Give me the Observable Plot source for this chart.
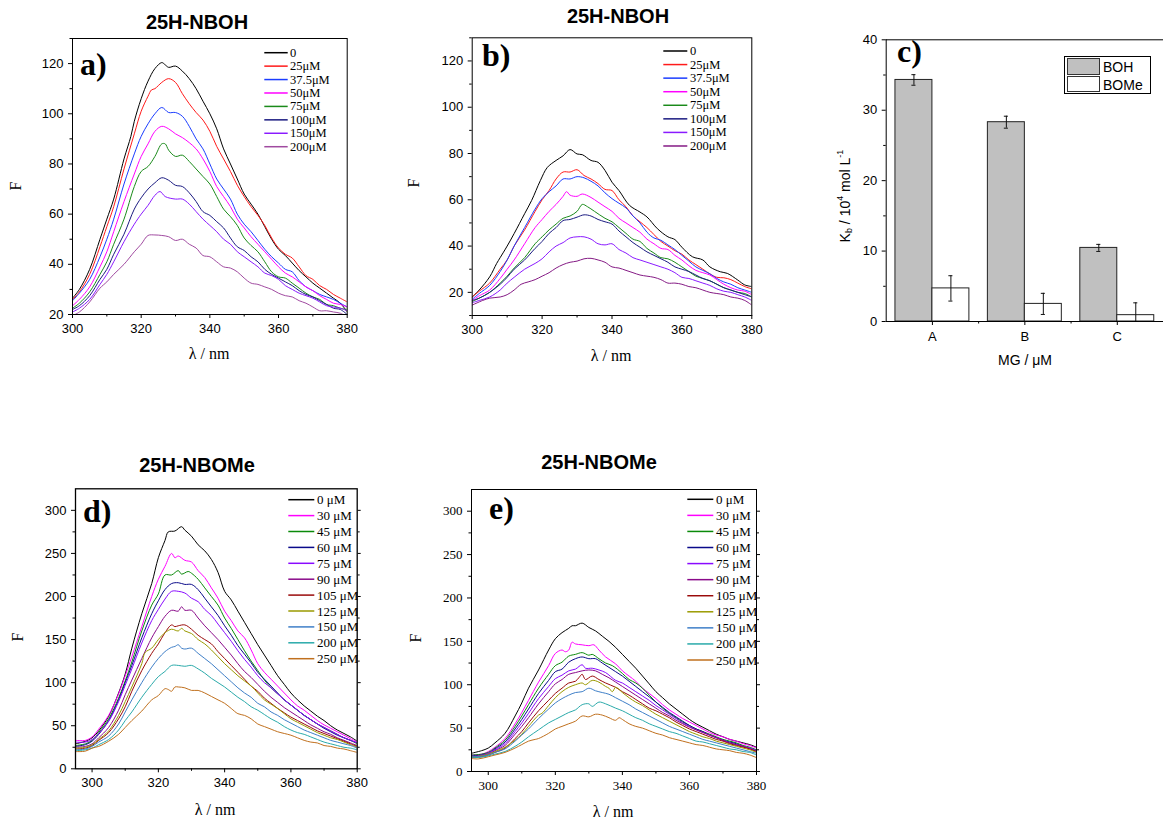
<!DOCTYPE html>
<html><head><meta charset="utf-8">
<script src="https://cdn.jsdelivr.net/npm/d3@7"></script>
<script src="https://cdn.jsdelivr.net/npm/@observablehq/plot@0.6"></script>
<style>
body{margin:0;background:#fff;}
#root{position:relative;width:1163px;height:821px;overflow:hidden;background:#fff;}
</style></head>
<body><div id="root"></div>
<script>
// ---------------- DATA ----------------
// Panels a & b: 25H-NBOH spectra (wavelength nm, F)
const abLabels = ["0","25μM","37.5μM","50μM","75μM","100μM","150μM","200μM"];
const aColors = ["#000000","#ff1a1a","#1a3cff","#ff00ff","#1a8a1a","#1a1a80","#8a1aff","#a04aa0"];
const bColors = ["#000000","#ff1a1a","#1a3cff","#ff00ff","#1a8a1a","#1a1a80","#8a1aff","#841a84"];

const a0 = [[300,26.5],[302,30],[305,38],[308,50],[310,58],[312,66],[315,82],[317,91],[318,97],[320,106],[322,113],[324,118],[326,120.4],[327,119.5],[328,118.5],[330,119],[332,117],[334,114],[336,110],[338,105],[340,100],[342,94],[344,86],[346,80],[348,74],[350,68],[352,64],[354,60],[356,55],[358,50],[360,46],[362,43.5],[364,40.5],[366,37.5],[368,35],[370,32.5],[372,30.5],[374,28.5],[376,26.5],[378,24.5],[380,21]];
const a25 = [[300,26],[302,29],[305,36],[308,47],[310,55],[312,63],[315,78],[318,92],[320,101],[322,107],[323,109.5],[324,110],[326,112.5],[328,114],[330,112.5],[332,108],[334,104],[336,100.5],[338,97.5],[340,93],[342,87],[344,82],[346,77],[348,71.5],[350,67],[352,63],[354,59.5],[356,55.5],[358,50.5],[360,46.5],[362,44],[364,42.5],[366,39],[368,35.5],[370,34],[372,31.5],[374,30],[376,28],[378,26.5],[380,25]];
const a37 = [[300,25.5],[302,28.5],[305,34],[308,43],[310,50],[312,58],[315,72],[318,84],[320,91],[322,96],[324,100],[326,102.5],[328,100.5],[330,100.5],[332,99],[334,95],[336,90],[338,86],[340,80],[342,74],[344,70],[346,66],[348,60],[350,56],[352,53],[354,49.5],[356,46],[358,43],[360,40.5],[362,38],[364,37],[366,33.5],[368,31],[370,29.5],[372,28],[374,27],[376,26],[378,24.5],[380,23]];
const a50 = [[300,23.5],[302,26],[305,31],[308,39],[310,45],[312,53],[315,65],[318,76],[320,83],[322,88],[324,93],[326,95],[328,94],[330,92],[332,90.5],[334,88.5],[336,86],[338,82],[340,77],[342,71],[344,67],[346,63],[348,58],[350,54.5],[352,51],[354,48],[356,45],[358,42],[360,39],[362,36.5],[364,35],[366,33],[368,31],[370,29.5],[372,27.5],[374,26],[376,24.5],[378,24],[380,23]];
const a75 = [[300,22.5],[302,24.5],[305,29],[308,36],[310,41],[312,48],[315,58],[318,71],[320,77],[322,79],[324,83],[326,88],[327,88],[328,85.5],[330,83],[332,83.5],[334,81],[336,78],[338,75],[340,72],[342,67],[344,62],[346,59],[348,55.5],[350,50.5],[352,47.5],[354,45],[356,41],[358,37],[360,35],[362,34.5],[364,32.5],[366,30.5],[368,28.5],[370,27],[372,26],[374,24],[376,23.5],[378,22.5],[380,22]];
const a100 = [[300,22],[302,23.5],[305,27.5],[308,34],[310,38],[312,44],[315,52],[318,62],[320,66.5],[322,70],[324,72.5],[326,74.5],[328,73.5],[330,71.5],[332,71],[334,68.5],[336,65],[338,61],[340,59.5],[342,57],[344,54.5],[346,50.5],[348,47],[350,45.5],[352,43],[354,41],[356,38],[358,36],[360,34.5],[362,33],[364,31.5],[366,29.5],[368,28],[370,27],[372,25.5],[374,24],[376,22.5],[378,22],[380,20]];
const a150 = [[300,21],[302,22.5],[305,26],[308,32],[310,36],[312,41],[315,49],[318,56],[320,60],[322,63.5],[324,67.5],[325.5,69],[327,67],[330,66],[332,66],[334,64],[336,61],[338,58],[340,55.5],[342,53],[344,50],[346,48],[348,45],[350,43],[352,41],[354,39],[356,36.5],[358,35.5],[360,34],[362,31.5],[364,30],[366,28.5],[368,27.5],[370,26.5],[372,25],[374,23.5],[376,23],[378,22.5],[380,21.5]];
const a200 = [[300,19.5],[302,21],[305,25],[308,30.5],[310,33],[312,36],[315,40],[318,45],[320,48],[322,51.5],[324,51.7],[326,51.5],[328,51],[330,49.5],[332,50],[334,48],[336,46.5],[338,43.5],[340,43],[342,41],[344,39],[346,38.5],[348,37],[350,34.5],[352,32.5],[354,32],[356,31],[358,30],[360,28.5],[362,27.5],[364,27],[366,25.5],[368,24.5],[370,23],[372,21.5],[374,21.5],[376,21],[378,20.5],[380,19]];

const b0 = [[300,18],[302,21],[305,26.7],[307,32.5],[308,35],[310,40],[312,45.4],[315,54],[317,59.7],[319.5,68.3],[321.5,74],[324,77],[326,79],[328,81.7],[330,79.8],[331.5,79.5],[334,77],[336,76.2],[338,72.7],[340,67.6],[342,64],[345,57.6],[348,54.7],[350,52.6],[353,47.5],[356,44],[358,42.8],[360,39.5],[363,35.4],[366,34],[368,31],[371,28.9],[373,28.2],[376,25.3],[378,23.2],[380,22.5]];
const b25 = [[300,18],[302,20.5],[305,24],[308,30],[310,34],[312,40],[315,47],[318,55],[320,60],[322,64],[324,69],[326,72],[328,72],[330,73],[332,70.5],[334,69],[336,67],[338,64.5],[340,64],[342,60],[344,57],[346,53],[348,50.5],[350,48],[352,45],[354,42],[356,40],[358,38],[360,36.5],[362,34],[364,32],[366,30],[368,28],[370,26.5],[372,26.3],[374,25.5],[376,24],[378,22.5],[380,21.5]];
const b37 = [[300,17],[302,19.5],[305,23],[308,29],[310,34],[312,40],[315,48],[318,56],[320,60.5],[322,63.5],[324,66],[326,69],[328,69],[330,70],[332,69.5],[334,68],[336,66],[338,63],[340,60.5],[342,58.5],[344,56.5],[346,53],[348,50],[350,46],[352,43.5],[354,42.5],[356,40.5],[358,38.5],[360,36],[362,33.5],[364,31],[366,29.5],[368,28],[370,26],[372,24.5],[374,23.5],[376,22],[378,21],[380,20]];
const b50 = [[300,16.5],[302,18.5],[305,21],[308,26],[310,30],[312,34],[315,41],[318,48],[320,51.5],[322,55],[324,58],[326,61.5],[327,63.5],[328,62],[330,61.5],[331.5,62.5],[334,61],[336,59],[338,57],[340,55],[342,52],[344,50],[346,48],[348,46],[350,43],[352,41],[354,39],[356,38.5],[358,36],[360,34],[362,31.5],[364,29.5],[366,28.5],[368,27.5],[370,25.5],[372,23.5],[374,22],[376,21],[378,20.5],[380,19]];
const b75 = [[300,16],[302,17.5],[305,20],[308,24],[310,27],[312,30.5],[315,35],[318,41],[320,44],[322,47],[324,49.5],[326,52],[328,53],[330,55],[331.5,58],[333,57],[335,55],[338,52],[340,50.5],[342,48],[344,45.5],[346,43],[348,42],[350,39],[352,37],[354,35],[356,34.5],[358,33],[360,31],[362,29],[364,27],[366,26],[368,25],[370,23.5],[372,22],[374,21],[376,20],[378,19.5],[380,18]];
const b100 = [[300,16.5],[302,17.5],[305,20],[308,23.5],[310,26.5],[312,30],[315,34],[318,39],[320,42],[322,45.5],[324,48],[326,51],[328,51.5],[330,52.5],[332,53.5],[334,53],[336,51.5],[338,50.5],[340,49.5],[342,46.5],[344,44],[346,41.5],[348,39.5],[350,37.5],[352,36],[354,34.5],[356,33],[358,31],[360,30],[362,29],[364,27.5],[366,26],[368,25],[370,23.5],[372,22],[374,21],[376,20],[378,19],[380,18]];
const b150 = [[300,15.5],[302,16.5],[305,18],[308,21],[310,24],[312,26.5],[315,30],[318,32.5],[320,34.5],[322,37.5],[324,40],[326,41.5],[328,43.5],[330,44],[332,44],[334,43],[336,41],[338,40.5],[340,41],[342,38.5],[344,37],[346,35],[348,34],[350,33],[352,32],[354,31],[356,30],[358,28.5],[360,26.5],[362,26],[364,25],[366,24],[368,23],[370,21.5],[372,20.5],[374,20],[376,19],[378,18],[380,16.5]];
const b200 = [[300,14.5],[303,16.5],[305,17.5],[308,18],[310,19],[312,21],[314,23.5],[316,24.5],[318,25.5],[320,27],[322,28.5],[324,30.5],[326,32],[328,33],[330,33.5],[332,34.5],[334,34.7],[336,34],[338,33],[340,31],[342,30.5],[344,29.5],[346,28.5],[348,27.5],[350,27],[352,26.5],[354,25.5],[356,24],[358,24],[360,23.5],[362,22.5],[364,22],[366,21],[368,20],[370,19.5],[372,19],[374,18],[376,17.5],[378,16.5],[380,14.5]];

// Panels d & e: 25H-NBOMe spectra
const deLabels = ["0 μM","30 μM","45 μM","60 μM","75 μM","90 μM","105 μM","125 μM","150 μM","200 μM","250 μM"];
const deColors = ["#000000","#ff00ff","#0a8a0a","#0a0a8a","#8a0aff","#8a0a8a","#9a0a0a","#9a9a00","#3f7fc8","#2aaaaa","#c0701e"];

const d0 = [[295,29],[298,32],[300,36],[302,44],[305,61],[308,88],[310,110],[312,140],[315,180],[318,215],[320,245],[322,265],[323,275],[325,276],[327,281],[328,277],[330,270],[332,260],[334,253],[336,243],[338,228],[340,206],[342,196],[344,183],[346,170],[348,157],[350,144],[352,132],[354,120],[356,108],[358,98],[360,88],[362,80],[364,73],[366,67],[368,61],[370,56],[372,50],[374,45],[376,41],[378,37],[380,32]];
const d30 = [[295,33],[298,33],[300,37],[302,46],[305,62],[308,87],[310,108],[312,130],[315,165],[318,200],[320,220],[322,235],[324,250],[325,245],[326,247],[328,242],[330,240],[332,230],[334,222],[336,210],[338,198],[340,183],[342,172],[344,160],[346,152],[348,138],[350,122],[352,112],[354,104],[356,96],[358,88],[360,80],[362,73],[364,68],[366,62],[368,56],[370,51],[372,47],[374,43],[376,39],[378,35],[380,31]];
const d45 = [[295,27],[298,29],[300,33],[302,42],[305,58],[308,82],[310,102],[312,124],[315,160],[318,190],[320,203],[322,225],[324,225],[326,230],[327,226],[329,229],[330,227],[332,220],[334,210],[336,200],[338,190],[340,175],[342,163],[344,150],[346,137],[348,125],[350,114],[352,103],[354,94],[356,87],[358,80],[360,74],[362,68],[364,62],[366,57],[368,52],[370,48],[372,44],[374,40],[376,36],[378,33],[380,29]];
const d60 = [[295,26],[298,28],[300,32],[302,40],[305,56],[308,80],[310,100],[312,120],[315,152],[318,180],[320,195],[322,208],[324,215],[326,216],[328,214],[330,214],[332,208],[334,198],[336,188],[338,178],[340,166],[342,155],[344,143],[346,133],[348,123],[350,112],[352,104],[354,96],[356,88],[358,80],[360,74],[362,68],[364,62],[366,57],[368,52],[370,47],[372,43],[374,39],[376,36],[378,33],[380,30]];
const d75 = [[295,31],[298,31],[300,34],[302,41],[305,55],[308,78],[310,97],[312,116],[315,146],[318,172],[320,185],[322,197],[324,206],[326,206],[328,204],[330,198],[332,194],[334,185],[336,178],[338,168],[340,158],[342,148],[344,137],[346,127],[348,118],[350,108],[352,100],[354,94],[356,87],[358,80],[360,74],[362,68],[364,62],[366,57],[368,52],[370,48],[372,44],[374,40],[376,36],[378,33],[380,30]];
const d90 = [[295,25],[298,26],[300,29],[302,36],[305,48],[308,68],[310,86],[312,103],[315,128],[318,152],[320,165],[322,177],[324,184],[326,183],[327,188],[328,184],[330,184],[332,175],[334,166],[336,158],[338,150],[340,141],[342,132],[344,122],[346,113],[348,106],[350,98],[352,90],[354,83],[356,77],[358,71],[360,66],[362,61],[364,56],[366,51],[368,47],[370,43],[372,40],[374,36],[376,33],[378,30],[380,27]];
const d105 = [[295,23],[298,24],[300,27],[302,33],[305,42],[308,58],[310,72],[312,90],[315,114],[318,134],[320,145],[322,158],[324,167],[325,165],[326,166],[328,167],[330,162],[332,155],[334,150],[336,145],[338,136],[340,128],[342,120],[344,112],[346,104],[348,96],[350,90],[352,82],[354,76],[356,70],[358,65],[360,60],[362,56],[364,52],[366,48],[368,44],[370,41],[372,38],[374,35],[376,32],[378,29],[380,26]];
const d125 = [[295,24],[298,25],[300,28],[302,34],[305,44],[308,62],[310,78],[312,95],[315,122],[316,135],[318,140],[320,150],[322,158],[324,162],[326,160],[327,163],[328,160],[330,157],[332,150],[334,145],[336,138],[338,130],[340,122],[342,115],[344,108],[346,102],[348,96],[350,88],[352,80],[354,75],[356,70],[358,64],[360,58],[362,54],[364,50],[366,46],[368,42],[370,39],[372,36],[374,34],[376,31],[378,28],[380,25]];
const d150 = [[295,22],[298,23],[300,26],[302,31],[305,38],[308,52],[310,66],[312,80],[315,100],[318,118],[320,128],[322,136],[324,141],[325,142],[326,144],[327,140],[328,139],[330,140],[332,134],[334,128],[336,122],[338,115],[340,108],[342,101],[344,94],[346,88],[348,83],[350,76],[352,72],[354,66],[356,62],[358,57],[360,53],[362,49],[364,45],[366,42],[368,39],[370,36],[372,33],[374,31],[376,29],[378,27],[380,24]];
const d200 = [[295,21],[298,22],[300,24],[302,28],[305,34],[308,45],[310,56],[312,66],[315,83],[318,98],[320,107],[322,113],[324,120],[326,120],[328,119],[330,120],[332,116],[334,111],[336,105],[338,100],[340,95],[342,89],[344,83],[346,78],[348,72],[350,68],[352,63],[354,58],[356,54],[358,49],[360,45],[362,42],[364,40],[366,37],[368,34],[370,31],[372,29],[374,27],[376,25],[378,24],[380,22]];
const d250 = [[295,20],[298,20.5],[300,24],[302,26],[305,32],[308,40],[310,48],[312,56],[315,67],[318,80],[320,85],[322,93],[323,92],[324,90],[325,95],[326,95],[328,94],[330,91],[332,91],[334,88],[336,84],[338,80],[340,76],[342,70],[344,64],[346,62],[348,58],[350,52],[352,49],[354,46],[356,43],[358,41],[360,39],[362,36],[364,33],[366,31],[368,30],[370,27],[372,26],[374,24],[376,23],[378,21],[380,19]];

const e0 = [[295,21],[298,24],[300,27],[302,33],[305,44],[308,64],[310,79],[312,96],[315,117],[318,140],[320,153],[322,160],[324,165],[325,168],[326,168],[328,171],[330,166],[332,162],[334,156],[336,150],[338,143],[340,135],[342,127],[344,119],[346,110],[348,101],[350,92],[352,85],[354,78],[356,72],[358,66],[360,60],[362,55],[364,51],[366,47],[368,43],[370,40],[372,37],[374,35],[376,33],[378,31],[380,28]];
const e30 = [[295,19],[298,20],[300,23],[302,28],[305,38],[308,55],[310,68],[312,82],[315,103],[318,122],[320,136],[322,140],[323,138],[324,140],[325,149],[326,147],[328,146],[330,145],[331.5,146],[333,140],[335,132],[338,124],[340,116],[342,110],[344,104],[346,96],[348,90],[350,84],[352,77],[354,71],[356,66],[358,61],[360,57],[362,53],[364,49],[366,45],[368,42],[370,40],[372,37],[374,35],[376,32],[378,30],[380,27]];
const e45 = [[295,19],[298,20],[300,22],[302,27],[305,36],[308,52],[310,64],[312,77],[315,96],[318,112],[320,122],[322,126],[324,133],[326,135],[328,137],[330,134],[331,135],[333,130],[335,125],[337,122],[340,113],[342,106],[344,102],[346,96],[348,88],[350,80],[352,73],[354,67],[356,62],[358,57],[360,53],[362,49],[364,46],[366,43],[368,40],[370,37],[372,35],[374,33],[376,30],[378,28],[380,25]];
const e60 = [[295,18],[298,19],[300,21],[302,26],[305,34],[308,49],[310,60],[312,72],[315,90],[318,105],[320,115],[322,118],[324,126],[326,130],[328,132],[330,130],[332,130],[334,125],[336,120],[338,115],[340,110],[342,104],[344,98],[346,92],[348,86],[350,80],[352,74],[354,68],[356,63],[358,58],[360,53],[362,49],[364,46],[366,42],[368,39],[370,36],[372,34],[374,32],[376,29],[378,27],[380,24]];
const e75 = [[295,17],[298,18.5],[300,21],[302,25],[305,32],[308,46],[310,56],[312,67],[315,84],[318,98],[320,107],[322,111],[324,116],[326,118],[328,123],[329,119],[331,119],[333,117],[335,114],[338,105],[340,102],[342,97],[344,92],[346,87],[348,82],[350,76],[352,71],[354,66],[356,61],[358,56],[360,52],[362,48],[364,45],[366,42],[368,39],[370,36],[372,33],[374,31],[376,29],[378,27],[380,24]];
const e90 = [[295,17],[298,18],[300,20],[302,24],[305,30],[308,43],[310,52],[312,62],[315,78],[318,92],[320,101],[322,106],[324,112],[326,114],[328,116],[330,117],[332,116],[334,112],[336,108],[338,103],[340,98],[342,93],[344,88],[346,83],[348,78],[350,73],[352,68],[354,64],[356,59],[358,55],[360,51],[362,48],[364,45],[366,42],[368,39],[370,36],[372,33],[374,31],[376,29],[378,26],[380,23]];
const e105 = [[295,16],[298,17],[300,19],[302,22],[305,27],[308,38],[310,46],[312,56],[315,70],[318,82],[320,90],[322,96],[324,102],[326,104],[327,108],[328,112],[329,106],[331,110],[333,106],[335,102],[338,97],[340,92],[342,88],[344,83],[346,78],[348,73],[350,70],[352,66],[354,62],[356,57],[358,53],[360,49],[362,46],[364,43],[366,40],[368,37],[370,35],[372,32],[374,30],[376,28],[378,26],[380,23]];
const e125 = [[295,17],[298,18],[300,20],[302,23],[305,28],[308,36],[310,43],[312,52],[315,65],[316,67],[318,76],[320,85],[322,92],[324,97],[326,100],[328,102],[329,100],[331,105],[333,103],[335,98],[336,96],[337,92],[338,97],[340,91],[342,85],[344,80],[346,76],[348,71],[350,66],[352,62],[354,58],[356,54],[358,50],[360,46],[362,43],[364,40],[366,38],[368,35],[370,33],[372,31],[374,29],[376,27],[378,25],[380,22]];
const e150 = [[295,17],[298,17.5],[300,19],[302,22],[305,26],[308,35],[310,42],[312,49],[315,61],[318,72],[320,79],[322,84],[324,88],[326,91],[328,92],[330,96],[332,93],[334,91],[336,89],[338,85],[340,81],[342,77],[344,72],[346,68],[348,64],[350,60],[352,56],[354,52],[356,49],[358,46],[360,43],[362,40],[364,37],[366,35],[368,33],[370,31],[372,29],[374,27],[376,25],[378,23],[380,21]];
const e200 = [[295,16],[298,16.5],[300,18],[302,20],[305,23],[308,29],[310,34],[312,40],[315,48],[318,56],[320,60],[322,64],[324,68],[326,71],[328,77],[330,78],[331,75],[333,80],[335,78],[338,73],[340,70],[342,66],[344,62],[346,59],[348,55],[350,52],[352,49],[354,46],[356,44],[358,41],[360,38],[362,35],[364,34],[366,32],[368,30],[370,28],[372,26],[374,25],[376,23],[378,22],[380,19]];
const e250 = [[295,15],[297,14.5],[300,17],[302,19],[305,22],[308,27],[310,31],[312,35],[314,37],[315,38],[318,44],[320,49],[322,52],[324,55],[326,58],[328,64],[330,63],[332,66],[334,65],[336,62],[338,59],[339,62],[340,60],[342,55],[344,52],[346,50],[348,47],[350,44],[352,42],[354,39],[356,37],[358,35],[360,33],[362,31],[364,30],[366,28],[368,26],[370,25],[372,24],[374,22],[376,21],[378,19],[380,16]];

// Panel c: binding constants
const kbCats = ["A","B","C"];
const kbGroups = ["BOH","BOMe"];
const kbBOH = [34.3, 28.3, 10.45];
const kbBOHErr = [0.75, 0.85, 0.5];
const kbBOMe = [4.7, 2.5, 0.9];
const kbBOMeErr = [1.8, 1.5, 1.75];

// Tick labels
const abXTicks = [300,320,340,360,380], abXMinor = [310,330,350,370];
const aYTicks = [20,40,60,80,100,120], aYMinor = [30,50,70,90,110,130];
const bYTicks = [20,40,60,80,100,120], bYMinor = [10,30,50,70,90,110,130];
const deXTicks = [300,320,340,360,380], deXMinor = [310,330,350,370];
const deYTicks = [0,50,100,150,200,250,300], deYMinor = [25,75,125,175,225,275];

// ---------------- RENDER ----------------
const SANS = "'Liberation Sans', Arial, Helvetica, sans-serif";
const SERIF = "'Liberation Serif', 'Times New Roman', Times, serif";
const root = document.getElementById("root");
function place(node, left, top){
  node.style.position = "absolute"; node.style.left = left + "px"; node.style.top = top + "px";
  root.appendChild(node);
}

function spectrum(cfg){
  const rows = [];
  cfg.series.forEach((s,i) => s.forEach(([nm,v]) => rows.push({nm, v, k: cfg.labels[i]})));
  const marks = [
    Plot.line(rows, {x: "nm", y: "v", z: "k", stroke: "k", strokeWidth: 1, curve: "catmull-rom", clip: true}),
    Plot.frame({stroke: "#000", strokeWidth: cfg.frameW || 1}),
    Plot.axisX({ticks: cfg.xt, tickSize: 4, tickPadding: 5, label: null, tickFormat: d => String(d)}),
    Plot.axisX({ticks: cfg.xm, tickSize: 2.5, label: null, tickFormat: () => ""}),
    Plot.axisY({ticks: cfg.yt, tickSize: 4, tickPadding: 5, label: null, tickFormat: d => String(d)}),
    Plot.axisY({ticks: cfg.ym, tickSize: 2.5, label: null, tickFormat: () => ""})
  ];
  if (cfg.rightTicks) {
    marks.push(Plot.axisY({anchor: "right", ticks: cfg.yt, tickSize: 3, label: null, tickFormat: () => ""}));
    marks.push(Plot.axisY({anchor: "right", ticks: cfg.ym, tickSize: 2, label: null, tickFormat: () => ""}));
  }
  return Plot.plot({
    width: cfg.w, height: cfg.h,
    marginLeft: cfg.ml, marginRight: cfg.mr, marginTop: cfg.mt, marginBottom: cfg.mb,
    style: {fontFamily: cfg.font, fontSize: cfg.fs + "px", color: "#000", background: "transparent", overflow: "visible"},
    x: {domain: cfg.xd},
    y: {domain: cfg.yd},
    color: {domain: cfg.labels, range: cfg.colors},
    marks
  });
}

// Panel a
place(spectrum({w: 360, h: 340, ml: 72, mr: 13.3, mt: 38, mb: 26, xd: [300,380], yd: [20,130],
  xt: abXTicks, xm: abXMinor, yt: aYTicks, ym: aYMinor, font: SANS, fs: 13,
  labels: abLabels, colors: aColors, series: [a0,a25,a37,a50,a75,a100,a150,a200]}), 0, 0);
// Panel b
place(spectrum({w: 360, h: 340, ml: 71.7, mr: 8.7, mt: 37.3, mb: 25, xd: [300,380], yd: [10,130],
  xt: abXTicks, xm: abXMinor, yt: bYTicks, ym: bYMinor, font: SANS, fs: 13,
  labels: abLabels, colors: bColors, series: [b0,b25,b37,b50,b75,b100,b150,b200]}), 400, 0);
// Panel d
place(spectrum({w: 370, h: 350, ml: 75, mr: 13.3, mt: 48.3, mb: 21.7, xd: [295,380], yd: [0,325],
  xt: deXTicks, xm: deXMinor, yt: deYTicks, ym: deYMinor, font: SANS, fs: 13, frameW: 1.3, rightTicks: true,
  labels: deLabels, colors: deColors, series: [d0,d30,d45,d60,d75,d90,d105,d125,d150,d200,d250]}), 0, 440);
// Panel e
place(spectrum({w: 370, h: 350, ml: 71, mr: 14, mt: 49, mb: 19, xd: [295,380], yd: [0,325],
  xt: deXTicks, xm: deXMinor, yt: deYTicks, ym: deYMinor, font: SERIF, fs: 13, rightTicks: true,
  labels: deLabels, colors: deColors, series: [e0,e30,e45,e60,e75,e90,e105,e125,e150,e200,e250]}), 400, 440);

// Panel c: bars with error bars
const kbRows = [];
kbCats.forEach((c,i) => {
  kbRows.push({cat: c, g: "BOH", x1: i + 0.1, x2: i + 0.5, v: kbBOH[i], e: kbBOHErr[i]});
  kbRows.push({cat: c, g: "BOMe", x1: i + 0.5, x2: i + 0.9, v: kbBOMe[i], e: kbBOMeErr[i]});
});
const cx = d => (d.x1 + d.x2) / 2;
const capW = 0.022;
const plotC = Plot.plot({
  width: 363, height: 345, marginLeft: 85.7, marginRight: 0, marginTop: 39.3, marginBottom: 24,
  style: {fontFamily: SANS, fontSize: "13px", color: "#000", background: "transparent", overflow: "visible"},
  x: {domain: [0, 3]},
  y: {domain: [0, 40]},
  color: {domain: kbGroups, range: ["#c0c0c0", "#ffffff"]},
  marks: [
    Plot.rectY(kbRows, {x1: "x1", x2: "x2", y1: 0, y2: "v", fill: "g", stroke: "#222", strokeWidth: 1}),
    Plot.ruleX(kbRows, {x: cx, y1: d => d.v - d.e, y2: d => d.v + d.e, stroke: "#111", strokeWidth: 1, clip: true}),
    Plot.ruleY(kbRows, {y: d => d.v + d.e, x1: d => cx(d) - capW, x2: d => cx(d) + capW, stroke: "#111", strokeWidth: 1}),
    Plot.ruleY(kbRows.filter(d => d.v - d.e > 0), {y: d => d.v - d.e, x1: d => cx(d) - capW, x2: d => cx(d) + capW, stroke: "#111", strokeWidth: 1}),
    Plot.ruleY([0, 40], {stroke: "#000", strokeWidth: 1}),
    Plot.ruleX([0], {stroke: "#000", strokeWidth: 1}),
    Plot.axisX({ticks: [0.5, 1.5, 2.5], tickSize: 4, tickPadding: 6, label: null, tickFormat: d => kbCats[Math.floor(d)]}),
    Plot.axisX({ticks: [1, 2], tickSize: 2.5, label: null, tickFormat: () => ""}),
    Plot.axisY({ticks: [0, 10, 20, 30, 40], tickSize: 4, tickPadding: 5, label: null, tickFormat: d => String(d)}),
    Plot.axisY({ticks: [5, 15, 25, 35], tickSize: 2.5, label: null, tickFormat: () => ""})
  ]
});
place(plotC, 800, 0);

// ---------------- OVERLAY TEXT / LEGENDS ----------------
const ov = d3.select(root).append("svg")
  .attr("width", 1163).attr("height", 821)
  .style("position", "absolute").style("left", "0px").style("top", "0px").style("pointer-events", "none");

function txt(x, y, s, o = {}){
  const t = ov.append("text").attr("x", x).attr("y", y).text(s)
    .attr("font-family", o.font || SANS).attr("font-size", o.size || 13)
    .attr("font-weight", o.weight || "normal").attr("fill", "#000")
    .attr("text-anchor", o.anchor || "start").attr("dominant-baseline", o.base || "auto");
  if (o.rotate) t.attr("transform", `rotate(${o.rotate},${x},${y})`);
  return t;
}
// titles
[["25H-NBOH",197,22],["25H-NBOH",618,16],["25H-NBOMe",197,465],["25H-NBOMe",599,462]].forEach(([s,x,y]) =>
  txt(x, y, s, {size: 20, weight: "bold", anchor: "middle", base: "central"}));
// panel tags
[["a)",80,75],["b)",482,66],["c)",897,62],["d)",83,522],["e)",489,519]].forEach(([s,x,y]) =>
  txt(x, y, s, {font: SERIF, size: 32, weight: "bold"}));
// axis labels
[[15,186],[413,183],[17,637],[415,638]].forEach(([x,y]) =>
  txt(x, y, "F", {font: SERIF, size: 16, anchor: "middle", base: "central", rotate: -90}));
[[209,353],[611,355],[215,809],[613,811]].forEach(([x,y]) =>
  txt(x, y, "λ / nm", {font: SERIF, size: 16, anchor: "middle", base: "central"}));
txt(1025, 360, "MG / μM", {size: 14, anchor: "middle", base: "central"});
{
  const t = txt(845, 196, "", {size: 14, anchor: "middle", base: "central", rotate: -90});
  t.append("tspan").text("K");
  t.append("tspan").text("b").attr("font-size", 9).attr("dy", 4);
  t.append("tspan").text(" / 10").attr("dy", -4);
  t.append("tspan").text("4").attr("font-size", 9).attr("dy", -5);
  t.append("tspan").text(" mol L").attr("dy", 5);
  t.append("tspan").text("-1").attr("font-size", 9).attr("dy", -5);
}
// spectrum legends
function legend(labels, colors, x1, x2, tx, y0, step, size){
  labels.forEach((l,i) => {
    const y = y0 + i * step;
    ov.append("line").attr("x1", x1).attr("x2", x2).attr("y1", y).attr("y2", y)
      .attr("stroke", colors[i]).attr("stroke-width", 1.5);
    txt(tx, y, l, {font: SERIF, size: size, base: "central"});
  });
}
legend(abLabels, aColors, 264.3, 287.7, 290, 52.7, 13.43, 12.5);
legend(abLabels, bColors, 663.3, 687.3, 690, 51, 13.57, 12.5);
legend(deLabels, deColors, 288.3, 314.3, 317, 499.7, 15.9, 13);
legend(deLabels, deColors, 687.3, 713.3, 716, 499.3, 16.07, 13);
// bar legend
ov.append("rect").attr("x", 1064.5).attr("y", 56.5).attr("width", 86).attr("height", 37)
  .attr("fill", "#fff").attr("stroke", "#000").attr("stroke-width", 1);
ov.append("rect").attr("x", 1067.5).attr("y", 58.5).attr("width", 32).attr("height", 16)
  .attr("fill", "#c0c0c0").attr("stroke", "#333").attr("stroke-width", 1);
ov.append("rect").attr("x", 1067.5).attr("y", 76.5).attr("width", 32).attr("height", 15)
  .attr("fill", "#fff").attr("stroke", "#333").attr("stroke-width", 1);
txt(1103, 66.5, "BOH", {size: 14, base: "central"});
txt(1103, 84.5, "BOMe", {size: 14, base: "central"});
</script>
</body></html>
